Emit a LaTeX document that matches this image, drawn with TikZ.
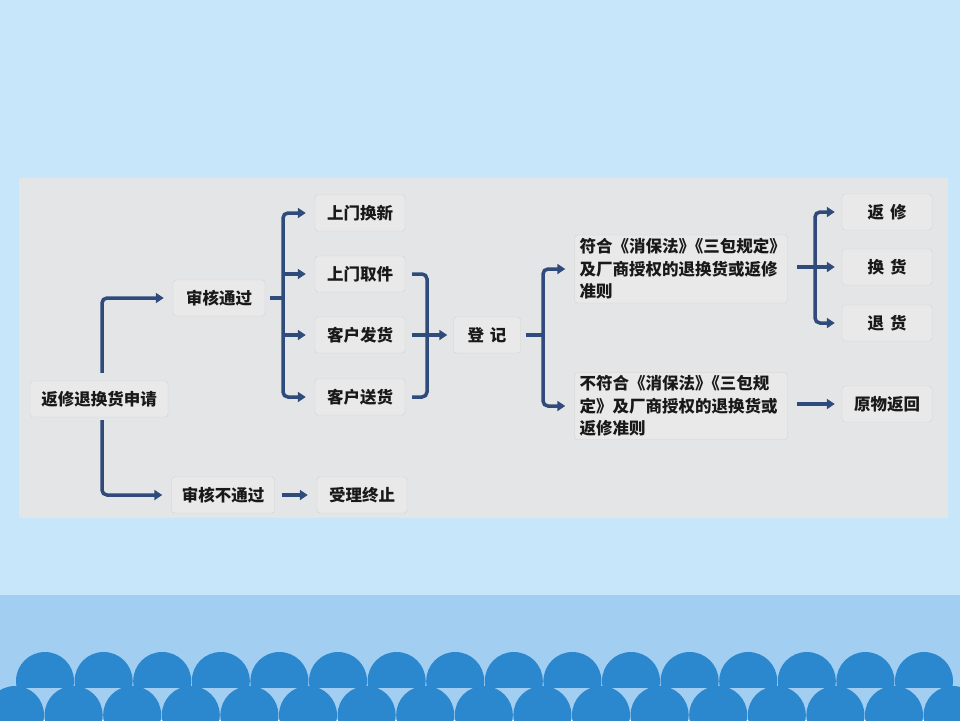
\documentclass[tikz,border=0pt]{standalone}
\usepackage{fontspec}
\setmainfont{Noto Sans CJK SC}
\usetikzlibrary{arrows.meta}

\definecolor{skyblue}{HTML}{C7E6F9}
\definecolor{bandblue}{HTML}{A2CEF1}
\definecolor{waveblue}{HTML}{2C88CE}
\definecolor{panelgray}{HTML}{E4E5E6}
\definecolor{boxfill}{HTML}{E9E9E9}
\definecolor{boxedge}{HTML}{D2D2D2}
\definecolor{flowblue}{HTML}{2E4B7B}

\tikzset{
  box/.style={draw=boxedge, fill=boxfill, rounded corners=3pt, minimum height=36pt,
    inner sep=0pt, text=black!90, font=\fontsize{16.5}{22.5}\selectfont\bfseries},
  line/.style={draw=flowblue, line width=3.5pt},
  flow/.style={line, -{Triangle[length=8pt,width=10pt]}, shorten >=9pt},
}

\begin{document}
\begin{tikzpicture}[x=1pt,y=-1pt]
  \useasboundingbox (0,0) rectangle (960,720);
  % background and waves
  \fill[skyblue] (0,0) rectangle (960,720);
  \fill[bandblue] (0,595) rectangle (960,720);
  \begin{scope}
    \clip (0,0) rectangle (960,687);
    \foreach \k in {0,...,15} {
      \fill[waveblue] (45+58.6*\k,681) circle (29pt);
    }
  \end{scope}
  \foreach \k in {0,...,16} {
    \fill[waveblue] (15+58.6*\k,715) circle (29pt);
  }
  % panel
  \fill[panelgray] (19,178) rectangle (948,518);

  % boxes
  \node[box, minimum width=138pt] (apply) at (99,399) {返修退换货申请};
  \node[box, minimum width=92pt] (pass) at (219,298) {审核通过};
  \node[box, minimum width=103pt] (fail) at (223,495) {审核不通过};
  \node[box, minimum width=90pt] (door) at (360,213) {上门换新};
  \node[box, minimum width=90pt] (pickup) at (360,274) {上门取件};
  \node[box, minimum width=90pt] (mail) at (360,335) {客户发货};
  \node[box, minimum width=90pt] (bring) at (360,397) {客户送货};
  \node[box, minimum width=90pt] (stop) at (362,495) {受理终止};
  \node[box, minimum width=67pt] (reg) at (487,335) {登\hspace{6pt}记};
  \node[box, text width=203pt, align=left, minimum height=68pt, inner xsep=5pt] (okA) at (681,269)
    {符合《消保法》\kern-.5em《三包规定》\\及厂商授权的退换货或返修\\准则};
  \node[box, text width=203pt, align=left, minimum height=67pt, inner xsep=5pt] (noB) at (681,406)
    {不符合《消保法》\kern-.5em《三包规\\定》及厂商授权的退换货或\\返修准则};
  \node[box, minimum width=90pt] (repair) at (887,212) {返\hspace{6pt}修};
  \node[box, minimum width=90pt] (swap) at (887,267) {换\hspace{6pt}货};
  \node[box, minimum width=90pt] (refund) at (887,323) {退\hspace{6pt}货};
  \node[box, minimum width=90pt] (back) at (887,404) {原物返回};

  % first split
  \draw[flow, rounded corners=5pt, shorten <=8pt] ([xshift=3pt]apply.north) |- (pass.west);
  \draw[flow, rounded corners=5pt, shorten <=3pt] ([xshift=3pt]apply.south) |- (fail.west);
  \draw[flow, shorten <=7pt] (fail.east) -- (stop.west);

  % four ways
  \coordinate (passfork) at (283,298);
  \draw[line, shorten <=5pt] (pass.east) -- (passfork);
  \draw[flow, rounded corners=5pt] (passfork) |- (door.west);
  \draw[flow, rounded corners=5pt] (passfork) |- (bring.west);
  \draw[flow] (passfork |- pickup) -- (pickup.west);
  \draw[flow] (passfork |- mail) -- (mail.west);

  % into register
  \coordinate (joinfork) at (427,335);
  \draw[line, rounded corners=5pt, shorten <=7pt] (pickup.east) -| (joinfork);
  \draw[line, rounded corners=5pt, shorten <=7pt] (bring.east) -| (joinfork);
  \draw[flow, shorten <=7pt, shorten >=6pt] (mail.east) -- (reg.west);

  % register split
  \coordinate (regfork) at (543,335);
  \draw[line, shorten <=5pt] (reg.east) -- (regfork);
  \draw[flow, rounded corners=5pt] (regfork) |- (okA.west);
  \draw[flow, rounded corners=5pt] (regfork) |- (noB.west);

  % outcomes
  \coordinate (okfork) at (815,267);
  \draw[flow, shorten <=9pt, shorten >=7pt] (okA.east |- swap) -- (swap.west);
  \draw[flow, rounded corners=5pt, shorten >=7pt] (okfork) |- (repair.west);
  \draw[flow, rounded corners=5pt, shorten >=7pt] (okfork) |- (refund.west);
  \draw[flow, shorten <=9pt, shorten >=7pt] (noB.east |- back) -- (back.west);
\end{tikzpicture}
\end{document}
